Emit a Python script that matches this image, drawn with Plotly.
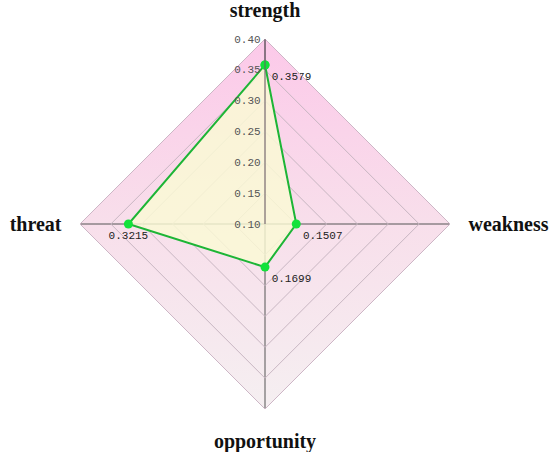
import plotly.graph_objects as go

categories = ["strength", "weakness", "opportunity", "threat"]
values = [0.3579, 0.1507, 0.1699, 0.3215]
value_labels = ["0.3579", "0.1507", "0.1699", "0.3215"]
label_positions = ["bottom right", "bottom right", "bottom right", "bottom center"]
r_min, r_max, r_step = 0.10, 0.40, 0.05

W, H = 550, 452
cx, cy, rad = 265, 224, 185
dom_x = [(cx - rad) / W, (cx + rad) / W]
dom_y = [1 - (cy + rad) / H, 1 - (cy - rad) / H]

fig = go.Figure()

# background gradient diamond (cartesian layer, under the polar subplot)
fig.add_trace(go.Scatter(
    x=[0, 1, 0, -1, 0], y=[1, 0, -1, 0, 1],
    mode="lines", line=dict(width=0, color="rgba(0,0,0,0)"),
    fill="toself",
    fillgradient=dict(type="vertical",
                      colorscale=[[0, "#f5eff1"], [0.5, "#f8dfeb"], [1, "#fcc9e9"]]),
    hoverinfo="skip", showlegend=False, xaxis="x", yaxis="y",
))

theta_closed = categories + categories[:1]
r_closed = values + values[:1]
text_closed = value_labels + [""]
pos_closed = label_positions + ["bottom right"]

fig.add_trace(go.Scatterpolar(
    r=r_closed, theta=theta_closed,
    mode="lines+markers+text",
    fill="toself", fillcolor="rgba(250,250,212,0.82)",
    line=dict(color="#1db536", width=2),
    marker=dict(color="#12e23a", size=9),
    text=text_closed, textposition=pos_closed,
    textfont=dict(family="Liberation Mono", size=11, color="#222"),
    showlegend=False,
))

fig.update_layout(
    width=W, height=H,
    margin=dict(l=0, r=0, t=0, b=0),
    paper_bgcolor="white", plot_bgcolor="rgba(0,0,0,0)",
    xaxis=dict(domain=dom_x, range=[-1, 1], visible=False, fixedrange=True),
    yaxis=dict(domain=dom_y, range=[-1, 1], visible=False, fixedrange=True),
    polar=dict(
        domain=dict(x=dom_x, y=dom_y),
        bgcolor="rgba(0,0,0,0)",
        gridshape="linear",
        radialaxis=dict(
            range=[r_min, r_max], dtick=r_step, tick0=r_min, tickformat=".2f",
            angle=90, tickangle=90, side="counterclockwise",
            showline=True, linecolor="#6d5a68", linewidth=1,
            gridcolor="#c8b6c2", gridwidth=1, ticks="",
            tickfont=dict(family="Liberation Mono", size=11, color="#555"),
        ),
        angularaxis=dict(
            categoryorder="array", categoryarray=categories,
            rotation=90, direction="clockwise",
            showline=True, linecolor="#cdb6c6", linewidth=1,
            gridcolor="#555", gridwidth=1,
            ticks="outside", ticklen=14, tickcolor="rgba(0,0,0,0)",
            tickfont=dict(family="Liberation Serif", size=20, color="#111", weight="bold"),
        ),
    ),
)

fig.write_html("out.html", config={"displayModeBar": False},
               post_script="document.body.style.margin='0';")
